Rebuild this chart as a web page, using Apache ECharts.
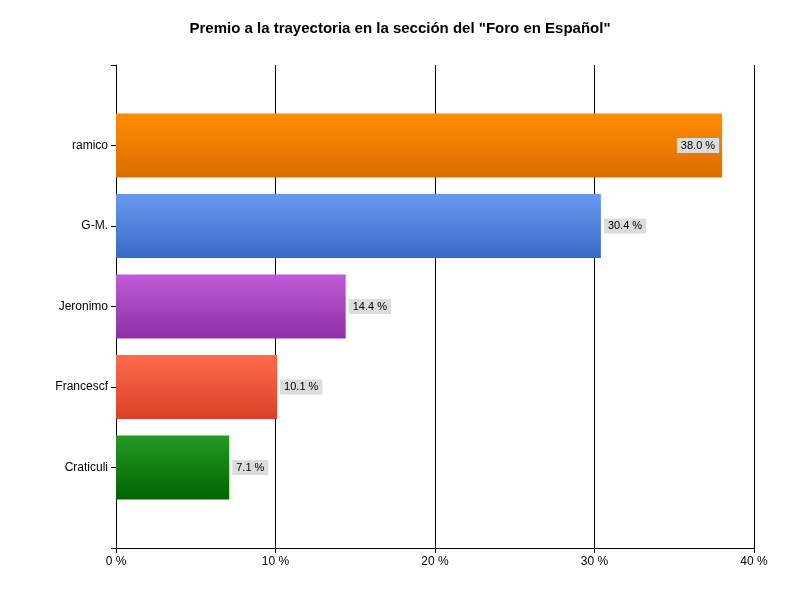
<!DOCTYPE html>
<html><head><meta charset="utf-8">
<script src="https://cdn.jsdelivr.net/npm/echarts@6/dist/echarts.min.js"></script>
<style>html,body{margin:0;padding:0;background:#fff}#c{width:800px;height:600px}</style>
</head><body><div id="c"></div>
<script>
const categories = ['', 'Craticuli', 'Francescf', 'Jeronimo', 'G-M.', 'ramico', ''];
const values = [null, 7.1, 10.1, 14.4, 30.4, 38.0, null];
const xTicks = [0, 10, 20, 30, 40];
const colorsTop = [null, '#249a24', '#ff6a4d', '#bf5bd6', '#6699ee', '#ff8c00'];
const colorsBot = [null, '#006400', '#d94125', '#8e2fa6', '#3a6ac8', '#d96e00'];

const chart = echarts.init(document.getElementById('c'));
const data = values.map((v, i) => {
  if (v === null) return null;
  return {
    value: v,
    itemStyle: { color: new echarts.graphic.LinearGradient(0, 0, 0, 1, [
      { offset: 0, color: colorsTop[i] }, { offset: 1, color: colorsBot[i] }]) },
    label: { position: v >= 35 ? 'insideRight' : 'right' }
  };
});
chart.setOption({
  animation: false,
  title: { text: 'Premio a la trayectoria en la sección del "Foro en Español"', left: 'center', top: 16,
    textStyle: { fontFamily: 'Liberation Sans', fontSize: 15, fontWeight: 'bold', color: '#000' } },
  grid: { left: 116, right: 46, top: 65, bottom: 52 },
  xAxis: { type: 'value', min: 0, max: 40, interval: 10,
    axisLine: { show: true, lineStyle: { color: '#000' } },
    axisTick: { show: true, length: 5, lineStyle: { color: '#000' } },
    splitLine: { show: true, lineStyle: { color: '#000' } },
    axisLabel: { color: '#000', fontFamily: 'Liberation Sans', fontSize: 12, formatter: v => xTicks.includes(v) ? v + ' %' : '' } },
  yAxis: { type: 'category', data: categories, boundaryGap: false,
    axisLine: { lineStyle: { color: '#000' } },
    axisTick: { show: true, length: 5, lineStyle: { color: '#000' } },
    axisLabel: { color: '#000', fontFamily: 'Liberation Sans', fontSize: 12, margin: 8 } },
  series: [{ type: 'bar', data: data, barWidth: 64,
    label: { show: true, formatter: p => p.value.toFixed(1) + ' %', color: '#000',
      fontFamily: 'Liberation Sans', fontSize: 11, backgroundColor: '#dcdcdc', padding: [2, 4], distance: 3 } }]
});
</script></body></html>
